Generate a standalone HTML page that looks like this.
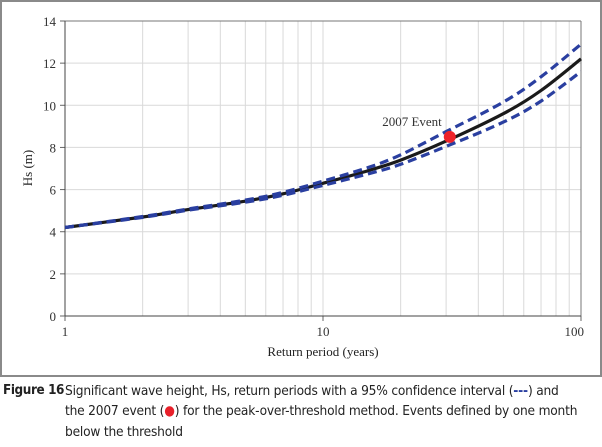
<!DOCTYPE html>
<html><head><meta charset="utf-8"><style>
body{margin:0;width:602px;height:447px;background:#fff;overflow:hidden;position:relative;font-family:"Liberation Serif",serif}
#frame{position:absolute;left:0;top:0;width:598px;height:373px;border:2px solid #8a8a8a}
.cap{position:absolute;font-family:"DejaVu Sans Condensed","Liberation Sans",sans-serif;font-size:13.6px;color:#222;letter-spacing:-0.2px;white-space:nowrap}
</style></head><body>
<div id="frame"></div>
<svg id="chart" width="602" height="380" style="position:absolute;left:0;top:0"></svg>
<div class="cap" style="left:3px;top:383px;font-weight:bold;font-size:13.4px;letter-spacing:-0.4px">Figure 16</div>
<div class="cap" style="left:65px;top:383px">Significant wave height, Hs, return periods with a 95% confidence interval (<span style="color:#2a3fa0;font-weight:bold">---</span>) and</div>
<div class="cap" style="left:65px;top:403px">the 2007 event (<span style="color:#e8202a">●</span>) for the peak-over-threshold method. Events defined by one month</div>
<div class="cap" style="left:65px;top:424px">below the threshold</div>
<script>
const periods=[1,2,3,5,7,10,15,20,30,50,70,100];
const hsCentral=[4.2,4.7,5.05,5.45,5.8,6.3,6.9,7.4,8.3,9.6,10.7,12.2];
const hsUpper=[4.2,4.72,5.08,5.5,5.87,6.4,7.05,7.65,8.75,10.15,11.35,12.9];
const hsLower=[4.2,4.68,5.02,5.4,5.73,6.2,6.75,7.2,8.05,9.2,10.2,11.6];
const eventT=[31];
const eventHs=[8.5];
const yTicks=[0,2,4,6,8,10,12,14];
const xTicks=[1,10,100];
const X0=65,X1=581,Y0=316,Y1=21;
const xs=t=>X0+(X1-X0)*Math.log10(t)/2;
const ys=v=>Y0-(Y0-Y1)*v/14;
const svg=document.getElementById('chart');
const NS='http://www.w3.org/2000/svg';
function mk(tag,at){const e=document.createElementNS(NS,tag);for(const k in at)e.setAttribute(k,at[k]);svg.appendChild(e);return e;}
for(let d=1;d<100;d*=10)for(let m=1;m<10;m++){const t=d*m;if(t===1)continue;const g=mk('line',{x1:xs(t),x2:xs(t),y1:Y1,y2:Y0,stroke:'#d9d9d9','stroke-width':1});

}
yTicks.forEach(v=>{if(v>0){const g=mk('line',{x1:X0,x2:X1,y1:ys(v),y2:ys(v),stroke:'#d9d9d9','stroke-width':1});

}
const tk=mk('line',{x1:X0-5,x2:X0,y1:ys(v),y2:ys(v),stroke:'#666'});


const tx=mk('text',{x:X0-9,y:ys(v)+5,'text-anchor':'end','font-size':'13','fill':'#333','font-family':'Liberation Serif'});tx.textContent=v;

});
xTicks.forEach(t=>{const tk=mk('line',{x1:xs(t),x2:xs(t),y1:Y0,y2:Y0+5,stroke:'#666'});


const tx=mk('text',{x:xs(t),y:Y0+20,'text-anchor':t===100?'end':'middle','font-size':'13','fill':'#333','font-family':'Liberation Serif'});tx.textContent=t;
if(t===100)tx.setAttribute('x',xs(t)+3);

});
const topB=mk('line',{x1:X0,x2:X1,y1:Y1,y2:Y1,stroke:'#777'});


const rtB=mk('line',{x1:X1,x2:X1,y1:Y1,y2:Y0,stroke:'#777'});


const xa=mk('line',{x1:X0,x2:X1,y1:Y0,y2:Y0,stroke:'#444'});


const ya=mk('line',{x1:X0,x2:X0,y1:Y1,y2:Y0,stroke:'#444'});


function pathD(vals){
  const p=periods.map((t,i)=>[xs(t),ys(vals[i])]);
  let d='M'+p[0][0].toFixed(1)+','+p[0][1].toFixed(1);
  for(let i=0;i<p.length-1;i++){
    const a=p[Math.max(0,i-1)],b=p[i],c=p[i+1],e=p[Math.min(p.length-1,i+2)];
    const c1=[b[0]+(c[0]-a[0])/6,b[1]+(c[1]-a[1])/6],c2=[c[0]-(e[0]-b[0])/6,c[1]-(e[1]-b[1])/6];
    d+='C'+c1.map(v=>v.toFixed(1))+' '+c2.map(v=>v.toFixed(1))+' '+c.map(v=>v.toFixed(1));
  }
  return d;
}
const cL=mk('path',{d:pathD(hsCentral),fill:'none',stroke:'#1a1a1a','stroke-width':3.2});


const uL=mk('path',{d:pathD(hsUpper),fill:'none',stroke:'#2a3fa0','stroke-width':3.2,'stroke-dasharray':'9,5'});


const lL=mk('path',{d:pathD(hsLower),fill:'none',stroke:'#2a3fa0','stroke-width':3.2,'stroke-dasharray':'9,5'});


const ev=mk('circle',{cx:xs(eventT[0]),cy:ys(eventHs[0]),r:6,fill:'#ee2229'});


const evL=mk('text',{x:xs(eventT[0])-8,y:ys(eventHs[0])-11,'text-anchor':'end','font-size':'13','fill':'#333','font-family':'Liberation Serif'});evL.textContent='2007 Event';


const xt=mk('text',{x:(X0+X1)/2,y:356,'text-anchor':'middle','font-size':'13','fill':'#222','font-family':'Liberation Serif'});xt.textContent='Return period (years)';


const yt=mk('text',{x:0,y:0,'text-anchor':'middle','font-size':'13','fill':'#222','font-family':'Liberation Serif',transform:'translate(32,168) rotate(-90)'});yt.textContent='Hs (m)';


</script>
</body></html>
